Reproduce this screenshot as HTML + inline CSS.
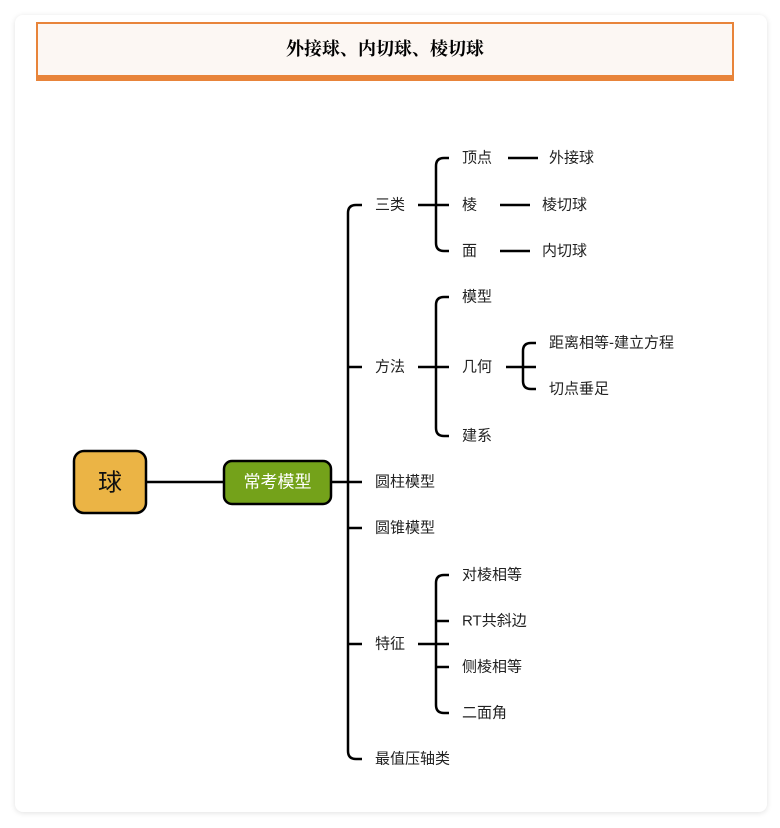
<!DOCTYPE html>
<html><head><meta charset="utf-8"><style>
html,body{margin:0;padding:0;background:#fff;width:780px;height:828px;overflow:hidden}
.card{position:absolute;left:15px;top:15px;width:752px;height:797px;background:#fff;border-radius:8px;box-shadow:0 1px 6px rgba(0,0,0,0.12)}
.title{position:absolute;left:36px;top:22px;width:694px;height:51px;background:#fcf7f3;border:2px solid #e8843a;border-bottom:6px solid #e8843a;text-align:center;line-height:51px;font-family:"Liberation Serif","Noto Serif CJK SC",serif;font-weight:bold;font-size:18px;color:#000}
svg{position:absolute;left:0;top:0}
text{font-family:"Liberation Sans","Noto Sans CJK SC",sans-serif;font-size:15px;fill:#222;dominant-baseline:central}
</style></head><body>
<div class="card"></div>
<div class="title">外接球、内切球、棱切球</div>
<svg width="780" height="828" viewBox="0 0 780 828">
<g fill="none" stroke="#000" stroke-width="2.5" stroke-linecap="butt">
<line x1="146" y1="482" x2="224" y2="482"/>
<line x1="331" y1="482" x2="362" y2="482"/>
<path d="M362 205 H356 Q348 205 348 213 V751 Q348 759 356 759 H362"/>
<line x1="348" y1="367" x2="362" y2="367"/>
<line x1="348" y1="528" x2="362" y2="528"/>
<line x1="348" y1="644" x2="362" y2="644"/>
<!-- 三类 -->
<line x1="418" y1="205" x2="449" y2="205"/>
<path d="M449 158 H444 Q436 158 436 166 V243 Q436 251 444 251 H449"/>
<line x1="508" y1="158" x2="538" y2="158"/>
<line x1="500" y1="205" x2="530" y2="205"/>
<line x1="500" y1="251" x2="530" y2="251"/>
<!-- 方法 -->
<line x1="418" y1="367" x2="449" y2="367"/>
<path d="M449 297 H444 Q436 297 436 305 V428 Q436 436 444 436 H449"/>
<line x1="506" y1="367" x2="536" y2="367"/>
<path d="M536 343 H531 Q523 343 523 351 V381 Q523 389 531 389 H536"/>
<!-- 特征 -->
<line x1="418" y1="644" x2="449" y2="644"/>
<path d="M449 575 H444 Q436 575 436 583 V705 Q436 713 444 713 H449"/>
<line x1="436" y1="621" x2="449" y2="621"/>
<line x1="436" y1="667" x2="449" y2="667"/>
</g>
<rect x="74" y="451" width="72" height="62" rx="10" fill="#ebb445" stroke="#000" stroke-width="2.5"/>
<text x="110" y="483" text-anchor="middle" style="font-size:24px;fill:#111">球</text>
<rect x="224" y="461" width="107" height="43" rx="8" fill="#74a21a" stroke="#000" stroke-width="2.5"/>
<text x="277.5" y="482" text-anchor="middle" style="font-size:17px;fill:#fff">常考模型</text>
<text x="375" y="205">三类</text>
<text x="375" y="367">方法</text>
<text x="375" y="482">圆柱模型</text>
<text x="375" y="528">圆锥模型</text>
<text x="375" y="644">特征</text>
<text x="375" y="759">最值压轴类</text>
<text x="462" y="158">顶点</text>
<text x="462" y="205">棱</text>
<text x="462" y="251">面</text>
<text x="549" y="158">外接球</text>
<text x="542" y="205">棱切球</text>
<text x="542" y="251">内切球</text>
<text x="462" y="297">模型</text>
<text x="462" y="367">几何</text>
<text x="462" y="436">建系</text>
<text x="549" y="343">距离相等-建立方程</text>
<text x="549" y="389">切点垂足</text>
<text x="462" y="575">对棱相等</text>
<text x="462" y="621">RT共斜边</text>
<text x="462" y="667">侧棱相等</text>
<text x="462" y="713">二面角</text>
</svg>
</body></html>
